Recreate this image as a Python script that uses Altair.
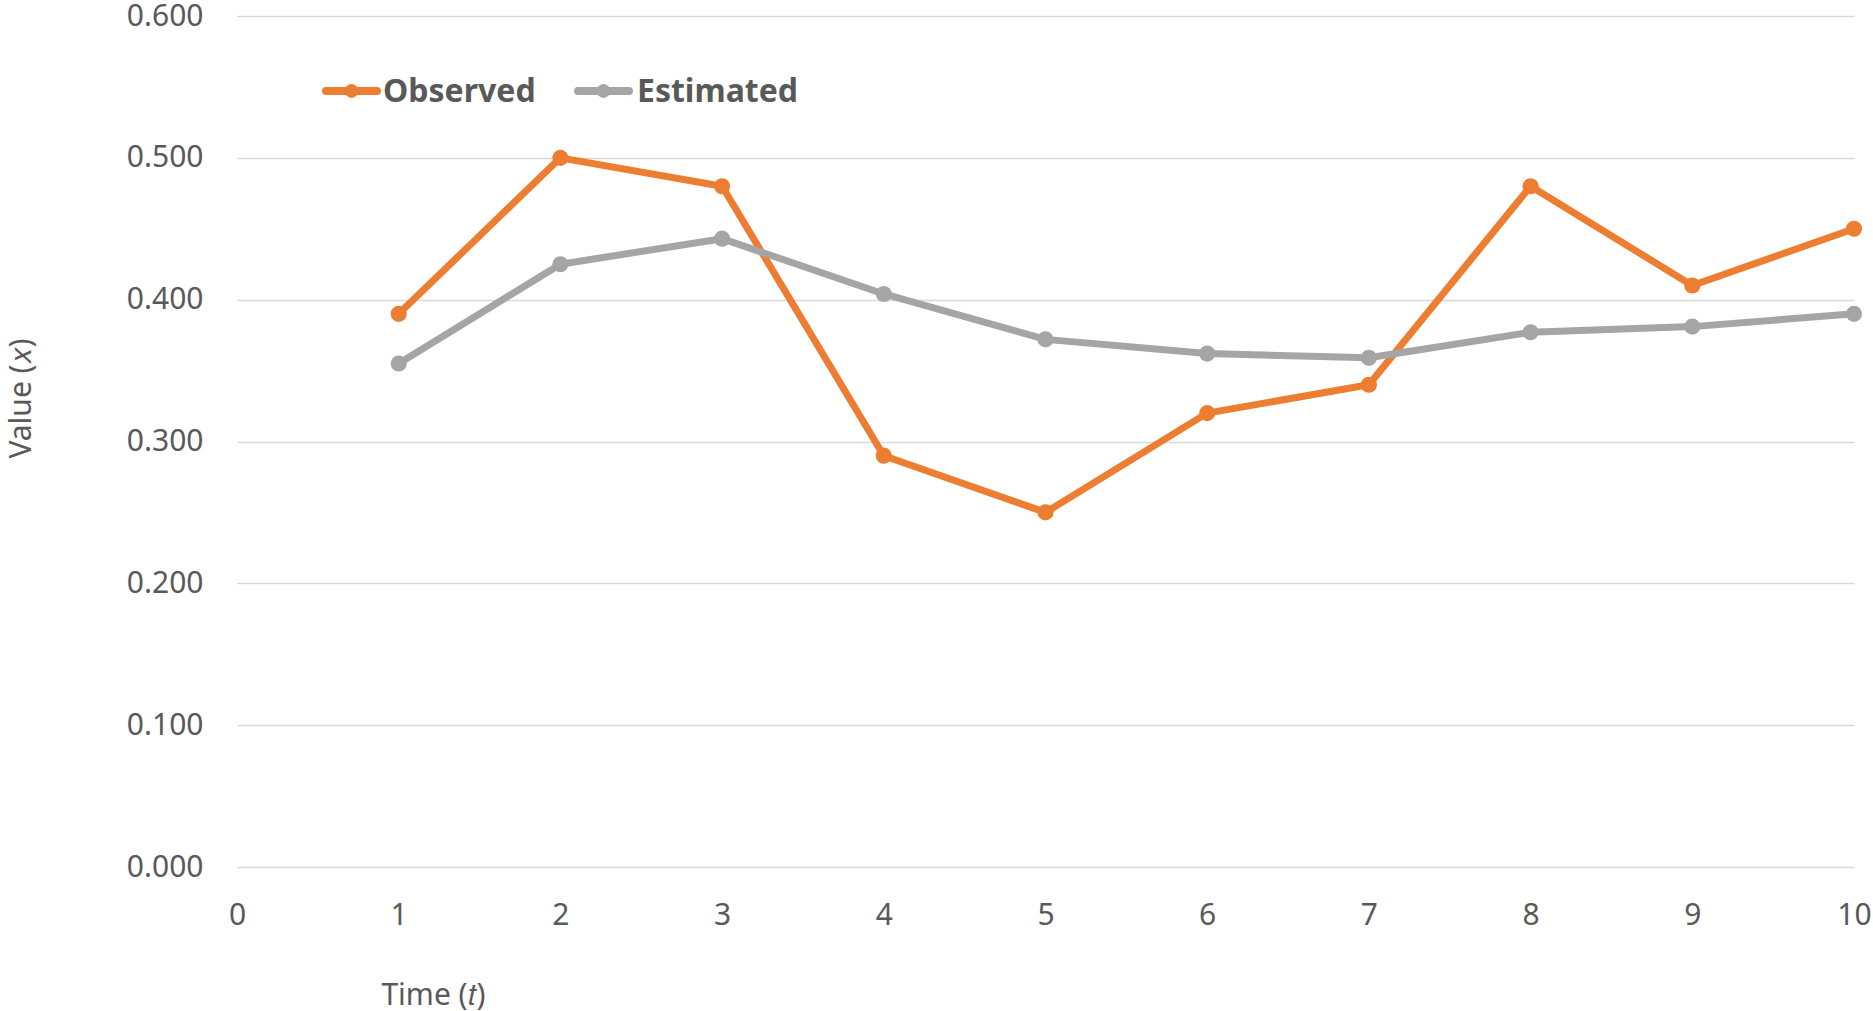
import altair as alt
import pandas as pd

time_points = [1, 2, 3, 4, 5, 6, 7, 8, 9, 10]
observed = [0.39, 0.50, 0.48, 0.29, 0.25, 0.32, 0.34, 0.48, 0.41, 0.45]
estimated = [0.355, 0.425, 0.443, 0.404, 0.372, 0.362, 0.359, 0.377, 0.381, 0.390]
series_names = ["Observed", "Estimated"]
series_colors = ["#ED7D31", "#A5A5A5"]
x_ticks = [0, 1, 2, 3, 4, 5, 6, 7, 8, 9, 10]
y_ticks = [0.0, 0.1, 0.2, 0.3, 0.4, 0.5, 0.6]

rows = []
for i, (name, vals) in enumerate(zip(series_names, [observed, estimated])):
    for t, v in zip(time_points, vals):
        rows.append({"t": t, "value": v, "series": name, "order": i})
df = pd.DataFrame(rows)

FONT = "Noto Sans"
TXT = "#595959"
color_scale = alt.Scale(domain=series_names, range=series_colors)

x_enc = alt.X("t:Q",
              scale=alt.Scale(domain=[0, 10], nice=False),
              axis=alt.Axis(values=x_ticks, format="d", grid=False, domain=False, ticks=False,
                            labelFont=FONT, labelFontSize=30, labelColor=TXT, labelPadding=33,
                            labelFlush=False,
                            title="Time (𝑡)", titleFont=FONT, titleFontSize=30, titleFontWeight="normal",
                            titleColor=TXT, titleX=196, titleY=128, titleAlign="center",
                            titleBaseline="middle", titleAnchor="start"))
y_enc = alt.Y("value:Q",
              scale=alt.Scale(domain=[0, 0.6], nice=False),
              axis=alt.Axis(values=y_ticks, format=".3f", grid=True, gridColor="#D9D9D9", gridWidth=1.5,
                            domain=False, ticks=False,
                            labelFont=FONT, labelFontSize=30, labelColor=TXT, labelPadding=34,
                            title="Value (𝑥)", titleFont=FONT, titleFontSize=30, titleFontWeight="normal",
                            titleColor=TXT, titleX=-216, titleY=382, titleAlign="center",
                            titleBaseline="middle", titleAnchor="start"))

base = alt.Chart(df)
lines = base.mark_line(strokeWidth=7, strokeCap="round", strokeJoin="round").encode(
    x=x_enc, y=y_enc,
    color=alt.Color("series:N", scale=color_scale, legend=None),
    order=alt.Order("t:Q"),
)
points = base.mark_circle(size=260, opacity=1).encode(
    x="t:Q", y="value:Q",
    color=alt.Color("series:N", scale=color_scale, legend=None),
)

# hand-built legend (line + dot + bold label), placed in the upper-left of the plot
legend_layers = []
legend_pos = {"Observed": (85, 144, 146), "Estimated": (337, 396, 400)}
LEG_Y = 75
for name in series_names:
    x1, x2, xt = legend_pos[name]
    ldf = pd.DataFrame({"series": [name]})
    lb = alt.Chart(ldf)
    legend_layers.append(lb.mark_rule(strokeWidth=8, strokeCap="round").encode(
        x=alt.value(x1 + 4), x2=alt.value(x2 - 4), y=alt.value(LEG_Y),
        color=alt.Color("series:N", scale=color_scale, legend=None)))
    legend_layers.append(lb.mark_circle(size=190, opacity=1).encode(
        x=alt.value((x1 + x2) / 2), y=alt.value(LEG_Y),
        color=alt.Color("series:N", scale=color_scale, legend=None)))
    legend_layers.append(lb.mark_text(align="left", baseline="middle", font=FONT, fontSize=32,
                                      fontWeight="bold", color=TXT).encode(
        x=alt.value(xt), y=alt.value(LEG_Y + 1), text="series:N"))

chart = alt.layer(
    lines.transform_filter(alt.datum.series == "Observed"),
    points.transform_filter(alt.datum.series == "Observed"),
    lines.transform_filter(alt.datum.series == "Estimated"),
    points.transform_filter(alt.datum.series == "Estimated"),
    *legend_layers,
).properties(
    width=1617, height=851,
    padding={"left": 237, "top": 16, "right": 19, "bottom": 144},
    autosize=alt.AutoSizeParams(type="none"),
    background="white",
).configure_view(stroke=None)

chart.save("out.html", embed_options={"renderer": "svg", "actions": False})
